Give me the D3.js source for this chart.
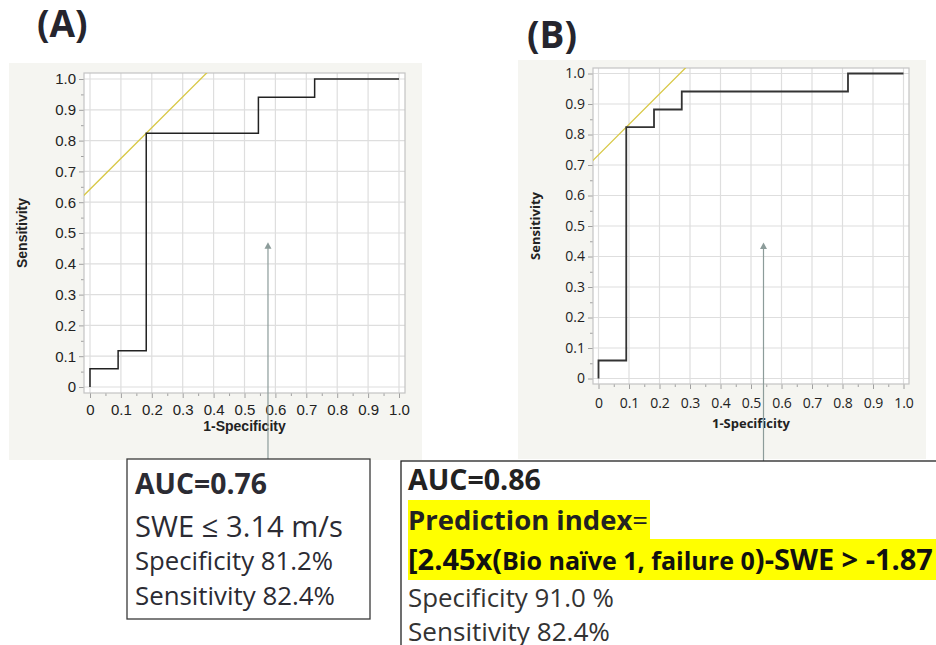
<!DOCTYPE html>
<html>
<head>
<meta charset="utf-8">
<script src="https://cdn.jsdelivr.net/npm/d3@7"></script>
<style>
  body { margin: 0; background: #fff; }
  svg { display: block; }
</style>
</head>
<body>
<div id="root"></div>
<script>
// ---- data ----
var tickValues = [0, 0.1, 0.2, 0.3, 0.4, 0.5, 0.6, 0.7, 0.8, 0.9, 1.0];
var tickLabels = ['0', '0.1', '0.2', '0.3', '0.4', '0.5', '0.6', '0.7', '0.8', '0.9', '1.0'];
var minorValues = [0.05, 0.15, 0.25, 0.35, 0.45, 0.55, 0.65, 0.75, 0.85, 0.95];

// panel A: SWE alone
var rocAx = [0, 0, 0.091, 0.091, 0.182, 0.182, 0.545, 0.545, 0.727, 0.727, 1.0];
var rocAy = [0, 0.059, 0.059, 0.118, 0.118, 0.824, 0.824, 0.941, 0.941, 1.0, 1.0];
var cutA = [0.182, 0.824];     // point the tangent (slope 1) touches
var arrowA = [0.576, 0.47];

// panel B: prediction index
var rocBx = [0, 0, 0.091, 0.091, 0.182, 0.182, 0.273, 0.273, 0.818, 0.818, 1.0];
var rocBy = [0, 0.059, 0.059, 0.824, 0.824, 0.882, 0.882, 0.941, 0.941, 1.0, 1.0];
var cutB = [0.091, 0.824];
var arrowB = [0.541, 0.446];

var boxALines = ['AUC=0.76', 'SWE \u2264 3.14 m/s', 'Specificity 81.2%', 'Sensitivity 82.4%'];
var boxBLines = ['AUC=0.86', 'Prediction index=', 'Specificity 91.0 %', 'Sensitivity 82.4%'];
var predictionParts = ['[2.45x(', 'Bio na\u00efve 1, failure 0', ')-SWE > -1.87'];

var width = 936;
var height = 645;

var svg = d3.select('#root')
  .append('svg')
    .attr('width', width)
    .attr('height', height);

function rocPanel(p) {
  var g = svg.append('g');
  g.append('rect')
    .attr('x', p.bg[0]).attr('y', p.bg[1])
    .attr('width', p.bg[2] - p.bg[0]).attr('height', p.bg[3] - p.bg[1])
    .attr('fill', '#f5f5f1');

  var f = p.frame;
  var x = d3.scaleLinear().domain([0, 1]).range([f[0] + p.pad, f[2] - p.pad]);
  var y = d3.scaleLinear().domain([0, 1]).range([f[3] - p.pad, f[1] + p.pad]);

  g.append('rect')
    .attr('x', f[0]).attr('y', f[1])
    .attr('width', f[2] - f[0]).attr('height', f[3] - f[1])
    .attr('fill', '#fff');

  // grid
  g.selectAll('line.gx').data(tickValues).enter().append('line')
    .attr('x1', function(d) { return x(d); }).attr('x2', function(d) { return x(d); })
    .attr('y1', f[1]).attr('y2', f[3])
    .attr('stroke', '#dedede').attr('stroke-width', 1.2);
  g.selectAll('line.gy').data(tickValues).enter().append('line')
    .attr('y1', function(d) { return y(d); }).attr('y2', function(d) { return y(d); })
    .attr('x1', f[0]).attr('x2', f[2])
    .attr('stroke', '#dedede').attr('stroke-width', 1.2);

  // axes
  var fmt = function(d, i) { return tickLabels[i]; };
  var xa = g.append('g').attr('transform', 'translate(0,' + f[3] + ')')
    .call(d3.axisBottom(x).tickValues(tickValues).tickFormat(fmt).tickSize(5));
  var xm = g.append('g').attr('transform', 'translate(0,' + f[3] + ')')
    .call(d3.axisBottom(x).tickValues(minorValues).tickFormat('').tickSize(3));
  var ya = g.append('g').attr('transform', 'translate(' + f[0] + ',0)')
    .call(d3.axisLeft(y).tickValues(tickValues).tickFormat(fmt).tickSize(5));
  var ym = g.append('g').attr('transform', 'translate(' + f[0] + ',0)')
    .call(d3.axisLeft(y).tickValues(minorValues).tickFormat('').tickSize(3));
  [xa, xm, ya, ym].forEach(function(a) {
    a.select('.domain').remove();
    a.selectAll('line').attr('stroke', '#a0a0a0');
  });
  xa.selectAll('text')
    .attr('y', p.xLabelY).attr('dy', 0)
    .style('font-family', p.font).style('font-size', p.tickSize + 'px').attr('fill', '#222');
  ya.selectAll('text')
    .attr('x', -p.yLabelGap)
    .style('font-family', p.font).style('font-size', p.tickSize + 'px').attr('fill', '#222');

  g.append('rect')
    .attr('x', f[0]).attr('y', f[1])
    .attr('width', f[2] - f[0]).attr('height', f[3] - f[1])
    .attr('fill', 'none').attr('stroke', '#c4c4c4').attr('stroke-width', 1.2);

  // tangent line, slope 1 through the cut-off point
  var clipId = 'clip' + p.id;
  g.append('clipPath').attr('id', clipId).append('rect')
    .attr('x', f[0]).attr('y', f[1])
    .attr('width', f[2] - f[0]).attr('height', f[3] - f[1]);
  var b = p.cut[1] - p.cut[0];
  g.append('line')
    .attr('clip-path', 'url(#' + clipId + ')')
    .attr('x1', x(-0.1)).attr('y1', y(-0.1 + b))
    .attr('x2', x(1 - b + 0.1)).attr('y2', y(1.1))
    .attr('stroke', '#d8c846').attr('stroke-width', 1.3);

  // ROC steps
  var pts = p.rx.map(function(d, i) { return [d, p.ry[i]]; });
  g.append('path')
    .datum(pts)
    .attr('d', d3.line().x(function(d) { return x(d[0]); }).y(function(d) { return y(d[1]); }))
    .attr('fill', 'none').attr('stroke', p.lineColor).attr('stroke-width', p.lineWidth);

  // axis titles
  g.append('text')
    .attr('x', (f[0] + f[2]) / 2).attr('y', p.xTitleY)
    .attr('text-anchor', 'middle')
    .style('font-family', p.font).style('font-weight', 'bold').style('font-size', p.titleSize + 'px')
    .attr('fill', '#222')
    .text('1-Specificity');
  g.append('text')
    .attr('transform', 'translate(' + p.yTitleX + ',' + (f[1] + f[3]) / 2 + ') rotate(-90)')
    .attr('text-anchor', 'middle')
    .style('font-family', p.font).style('font-weight', 'bold').style('font-size', p.titleSize + 'px')
    .attr('fill', '#222')
    .text('Sensitivity');

  // arrow pointing into the plot from the box below
  var ax0 = x(p.arrow[0]), ay0 = y(p.arrow[1]);
  g.append('line')
    .attr('x1', ax0).attr('x2', ax0)
    .attr('y1', ay0 + 4).attr('y2', p.arrowEnd)
    .attr('stroke', '#8c9c9a').attr('stroke-width', 1.2);
  g.append('path')
    .attr('d', 'M' + ax0 + ',' + ay0 + 'l-3.5,6.5h7z')
    .attr('fill', '#8c9c9a');
}

rocPanel({
  id: 'A', bg: [9, 63, 422, 460], frame: [84, 73, 405, 393], pad: 6,
  font: '"Liberation Sans", Arial, sans-serif', tickSize: 15, titleSize: 14,
  xLabelY: 22, yLabelGap: 8, xTitleY: 431, yTitleX: 27,
  rx: rocAx, ry: rocAy, cut: cutA, arrow: arrowA, arrowEnd: 459,
  lineColor: '#222', lineWidth: 1.5
});

rocPanel({
  id: 'B', bg: [518, 60, 926, 459], frame: [593, 68, 909, 384], pad: 5.5,
  font: '"Open Sans", sans-serif', tickSize: 14, titleSize: 13,
  xLabelY: 24, yLabelGap: 8, xTitleY: 428, yTitleX: 540,
  rx: rocBx, ry: rocBy, cut: cutB, arrow: arrowB, arrowEnd: 461,
  lineColor: '#333', lineWidth: 1.8
});

// panel letters
svg.append('text').attr('x', 37).attr('y', 37)
  .style('font-family', '"Open Sans", sans-serif').style('font-weight', 'bold').style('font-size', '37px')
  .attr('fill', '#25252e').text('(A)');
svg.append('text').attr('x', 527).attr('y', 48)
  .style('font-family', '"Open Sans", sans-serif').style('font-weight', 'bold').style('font-size', '37px')
  .attr('fill', '#25252e').text('(B)');

// scale every tspan of a line so the line is the wanted width
function fitLine(t, w) {
  var k = w / t.node().getComputedTextLength();
  t.selectAll('tspan').each(function() {
    var s = d3.select(this);
    s.style('font-size', (parseFloat(s.style('font-size')) * k) + 'px');
  });
}

function boxLine(x, y, parts, w, color) {
  var t = svg.append('text').attr('x', x).attr('y', y)
    .style('font-family', '"Open Sans", sans-serif').attr('fill', color);
  parts.forEach(function(p) {
    t.append('tspan').text(p[0])
      .style('font-weight', p[1] ? 'bold' : 'normal')
      .style('font-size', p[2] + 'px');
  });
  fitLine(t, w);
  return t;
}

// box A
svg.append('rect').attr('x', 127).attr('y', 459).attr('width', 243).attr('height', 160)
  .attr('fill', '#fff').attr('stroke', '#3a3a3a').attr('stroke-width', 1.3);
var boxAy = [494, 537, 570, 605];
var boxAw = [132, 208, 198, 200];
boxALines.forEach(function(s, i) {
  boxLine(135, boxAy[i], [[s, i === 0, 26]], boxAw[i], '#2b2b33');
});

// box B
svg.append('rect').attr('x', 401).attr('y', 461).attr('width', 560).attr('height', 220)
  .attr('fill', '#fff').attr('stroke', '#222').attr('stroke-width', 1.3);
svg.append('rect').attr('x', 408).attr('y', 500).attr('width', 242).attr('height', 39).attr('fill', '#ffff00');
svg.append('rect').attr('x', 408).attr('y', 539).attr('width', 540).attr('height', 41).attr('fill', '#ffff00');
boxLine(408, 490, [[boxBLines[0], true, 26]], 133, '#222');
boxLine(408, 530, [['Prediction index', true, 26], ['=', false, 26]], 240, '#222');
boxLine(408, 570, [[predictionParts[0], true, 26], [predictionParts[1], true, 22.5], [predictionParts[2], true, 26]], 525, '#111');
boxLine(408, 607, [[boxBLines[2], false, 26]], 206, '#333');
boxLine(408, 641, [[boxBLines[3], false, 26]], 202, '#333');
</script>
</body>
</html>
